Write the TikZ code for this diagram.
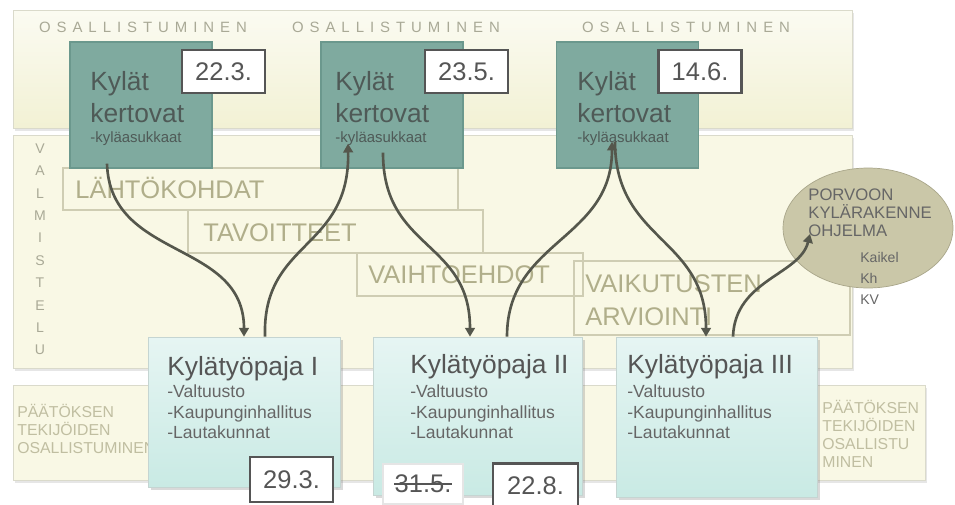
\documentclass[tikz,border=0pt]{standalone}
\usepackage{fontspec}
\setmainfont{Liberation Sans}
\newfontfamily\harva[LetterSpace=40]{Liberation Sans}
\usetikzlibrary{arrows.meta,calc,shadows,shapes.geometric}

\definecolor{kaistaYla}{HTML}{FBFBF2}
\definecolor{kaistaAla}{HTML}{F2F1D4}
\definecolor{kaistaTausta}{HTML}{F9F8E5}
\definecolor{kaistaReuna}{HTML}{DADACB}
\definecolor{teal1}{HTML}{7FAA9F}
\definecolor{teal2}{HTML}{6B988D}
\definecolor{tekstiTumma}{HTML}{4F5A57}
\definecolor{harmaa}{HTML}{555555}
\definecolor{vaiheReuna}{HTML}{CFCDB3}
\definecolor{vaiheTeksti}{HTML}{B0AE8A}
\definecolor{pajaYla}{HTML}{E6F5F3}
\definecolor{pajaAla}{HTML}{C9EAE4}
\definecolor{pajaReuna}{HTML}{C5D5D2}
\definecolor{soikio}{HTML}{CAC7A8}
\definecolor{soikioReuna}{HTML}{A9A68A}
\definecolor{nuoliVari}{HTML}{55574C}
\definecolor{vaalea}{HTML}{A9A996}

\begin{document}
\begin{tikzpicture}[x=0.02cm, y=-0.02cm,
    kaista/.style={draw=kaistaReuna, fill=kaistaTausta, drop shadow={opacity=0.2, shadow xshift=1pt, shadow yshift=-1.5pt}},
    osa/.style={text=vaalea, font=\harva\fontsize{8.5}{9}\selectfont},
    pysty/.style={text=vaalea, font=\fontsize{8}{9}\selectfont},
    kylat/.style={draw=teal2, fill=teal1, line width=0.8pt, minimum width=2.84cm, minimum height=2.52cm},
    iso/.style={anchor=base west, inner sep=0, text=tekstiTumma, font=\fontsize{15}{18}\selectfont},
    pieni/.style={anchor=base west, inner sep=0, text=tekstiTumma, font=\fontsize{8.5}{9}\selectfont},
    pvm/.style={draw=harmaa, fill=white, line width=1.2pt, text=harmaa, font=\fontsize{14.5}{17}\selectfont},
    vaihe/.style={draw=vaiheReuna, line width=0.8pt},
    vaiheteksti/.style={anchor=base west, inner sep=0, text=vaiheTeksti, font=\fontsize{14.5}{17}\selectfont},
    paja/.style={draw=pajaReuna, top color=pajaYla, bottom color=pajaAla, drop shadow={opacity=0.3, shadow xshift=1.5pt, shadow yshift=-1.5pt}},
    pajaotsikko/.style={anchor=base west, inner sep=0, text=harmaa, font=\fontsize{15}{18}\selectfont},
    pajarivi/.style={anchor=base west, inner sep=0, text=black!60, font=\fontsize{10}{11}\selectfont},
    paattaja/.style={anchor=base west, inner sep=0, text=vaiheTeksti!80, font=\fontsize{9}{10}\selectfont},
    porvoo/.style={anchor=base west, inner sep=0, text=black!60, font=\fontsize{9.5}{11}\selectfont},
    nuoli/.style={draw=nuoliVari, line width=1.5pt, -{Triangle[length=5pt,width=5.5pt]}}]

    \useasboundingbox (0,0) rectangle (955,504);

    % Kaistat
    \node[kaista, top color=kaistaYla, bottom color=kaistaAla, minimum width=16.78cm, minimum height=2.36cm] (osal) at (432.5,69) {};
    \node[kaista, minimum width=16.78cm, minimum height=4.66cm] (valm) at (432.5,251.5) {};
    \node[kaista, minimum width=18.24cm, minimum height=1.9cm] (paat) at (469,432.5) {};

    \node[osa] (o1) at (143,27) {OSALLISTUMINEN};
    \node[osa] (o2) at (396,27) {OSALLISTUMINEN};
    \node[osa] (o3) at (686,27) {OSALLISTUMINEN};

    \foreach \kirjain [count=\i] in {V,A,L,M,I,S,T,E,L,U}
        \node[pysty] (v\i) at (40,126+22.4*\i) {\kirjain};

    \foreach \rivi [count=\i] in {PÄÄTÖKSEN,TEKIJÖIDEN,OSALLISTUMINEN}
        \node[paattaja] (pv\i) at (17,399+18*\i) {\rivi};
    \foreach \rivi [count=\i] in {PÄÄTÖKSEN,TEKIJÖIDEN,OSALLISTU,MINEN}
        \node[paattaja] (po\i) at (822,395+18*\i) {\rivi};

    % Vaiheet
    \node[vaihe, minimum width=7.9cm, minimum height=0.84cm] (lahto) at (260.5,189) {};
    \node[vaiheteksti] (lahtot) at (75,198) {LÄHTÖKOHDAT};
    \node[vaihe, minimum width=5.9cm, minimum height=0.86cm] (tavo) at (335.5,231.5) {};
    \node[vaiheteksti] (tavot) at (203,241) {TAVOITTEET};
    \node[vaihe, minimum width=4.52cm, minimum height=0.86cm] (vaiht) at (470,274.5) {};
    \node[vaiheteksti] (vaihtt) at (368,283) {VAIHTOEHDOT};
    \node[vaihe, minimum width=5.52cm, minimum height=1.48cm] (vaik) at (712,298) {};
    \node[vaiheteksti] (vaikt1) at (585,292) {VAIKUTUSTEN};
    \node[vaiheteksti] (vaikt2) at (585,325) {ARVIOINTI};

    % Kylät kertovat
    \node[kylat] (k1) at (141,105) {};
    \node[iso] (k1a) at (90,90) {Kylät};
    \node[iso] (k1b) at (90,122) {kertovat};
    \node[pieni] (k1c) at (90,142) {-kyläasukkaat};
    \node[kylat] (k2) at (392,105) {};
    \node[iso] (k2a) at (335,90) {Kylät};
    \node[iso] (k2b) at (335,122) {kertovat};
    \node[pieni] (k2c) at (335,142) {-kyläasukkaat};
    \node[kylat] (k3) at (627.5,105) {};
    \node[iso] (k3a) at (577,90) {Kylät};
    \node[iso] (k3b) at (577,122) {kertovat};
    \node[pieni] (k3c) at (577,142) {-kyläasukkaat};

    \node[pvm, minimum width=1.66cm, minimum height=0.86cm] (d1) at (223.5,71.5) {22.3.};
    \node[pvm, minimum width=1.66cm, minimum height=0.86cm] (d2) at (466.5,71.5) {23.5.};
    \node[pvm, minimum width=1.66cm, minimum height=0.86cm] (d3) at (700,71.5) {14.6.};

    % Kylätyöpajat
    \node[paja, minimum width=3.84cm, minimum height=3cm] (w1) at (244,412) {};
    \node[paja, minimum width=4.18cm, minimum height=3.16cm] (w2) at (477.5,416) {};
    \node[paja, minimum width=4.02cm, minimum height=3.2cm] (w3) at (716.5,417) {};
    \node[pajaotsikko] (w1a) at (167,375) {Kylätyöpaja I};
    \node[pajaotsikko] (w2a) at (410,373) {Kylätyöpaja II};
    \node[pajaotsikko] (w3a) at (627,373) {Kylätyöpaja III};
    \foreach \x/\n in {167/1,410/2,627/3}
        \foreach \rivi [count=\i] in {-Valtuusto,-Kaupunginhallitus,-Lautakunnat}
            \node[pajarivi] (w\n r\i) at (\x,377+20.5*\i) {\rivi};

    \node[pvm, minimum width=1.66cm, minimum height=0.9cm] (d4) at (291.5,479.5) {29.3.};
    \node[pvm, draw=black!10, minimum width=1.6cm, minimum height=0.8cm] (d5) at (423,484) {31.5.};
    \draw[harmaa, line width=1pt] ($(d5.center)+(-29,0)$) -- ($(d5.center)+(29,0)$);
    \node[pvm, minimum width=1.7cm, minimum height=0.9cm] (d6) at (535.5,486) {22.8.};

    % Porvoo
    \node[ellipse, draw=soikioReuna, fill=soikio, minimum width=3.4cm, minimum height=2.4cm] (porvoo) at (868,228) {};
    \foreach \rivi [count=\i] in {PORVOON,KYLÄRAKENNE,OHJELMA}
        \node[porvoo] (pr\i) at (808,182+18*\i) {\rivi};
    \foreach \rivi [count=\i] in {Kaikel,Kh,KV}
        \node[porvoo, font=\fontsize{8}{9}\selectfont] (pk\i) at (860,241+21*\i) {\rivi};

    % Nuolet
    \draw[nuoli] ($(k1.south)+(-34,-5)$) .. controls +(3,97) and +(0,-97) .. (w1.north);
    \draw[nuoli] ($(w1.north)+(21,0)$) .. controls +(-3,-97) and +(2,107) .. ($(k2.south)+(-44,-25)$);
    \draw[nuoli] ($(k2.south)+(-9,-16)$) .. controls +(0,98) and +(0,-97) .. ($(w2.north)+(-7.5,0)$);
    \draw[nuoli] ($(w2.north)+(29.5,0)$) .. controls +(0,-97) and +(0,99) .. ($(k3.south)+(-15.5,-27)$);
    \draw[nuoli] ($(k3.south)+(-12.5,-27)$) .. controls +(0,100) and +(0,-100) .. ($(w3.north)+(-10.5,0)$);
    \draw[nuoli] ($(w3.north)+(16.5,0)$) .. controls +(2,-57) and +(-10,41) .. ($(porvoo.center)+(-58,6)$);
\end{tikzpicture}
\end{document}
